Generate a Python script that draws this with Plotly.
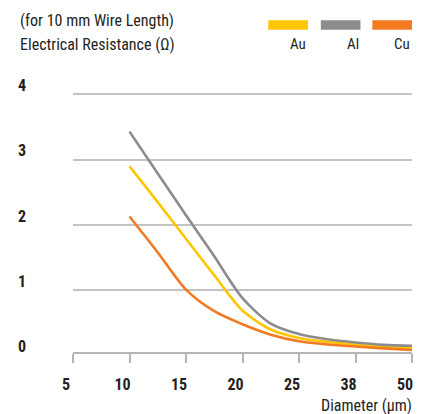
import plotly.graph_objects as go

# ---- data ----
diameters = ["5", "10", "15", "20", "25", "38", "50"]
# curve samples: position on the diameter scale (category index) and values
curve_pos = [1, 1.5, 2, 2.5, 3, 3.5, 4, 4.5, 5, 5.5, 6]
au_vals = [2.90, 2.35, 1.79, 1.23, 0.69, 0.40, 0.27, 0.21, 0.17, 0.13, 0.11]
al_vals = [3.43, 2.79, 2.15, 1.52, 0.88, 0.49, 0.33, 0.25, 0.20, 0.165, 0.15]
cu_vals = [2.13, 1.58, 1.01, 0.68, 0.48, 0.32, 0.22, 0.17, 0.14, 0.11, 0.086]
series_names = ["Au", "Al", "Cu"]
series_colors = ["#FFC600", "#8C8C8F", "#F47A20"]
y_ticks = [0, 1, 2, 3, 4]

FONT = "Roboto Condensed, Liberation Sans Narrow, sans-serif"

OFF = 8  # page body margin
W, H = 423 - OFF, 414 - OFF
PLOT_TOP, PLOT_BOTTOM = 80, 356   # page pixels
L, R = 71 - OFF, 10
T, B = PLOT_TOP - OFF, H - (PLOT_BOTTOM - OFF)
pw, ph = W - L - R, H - T - B
PX_PER_UNIT = 65.3
ZERO_PX = 355.6
AXIS_PX = 352.7

def px_x(p):  # page pixel -> paper x
    return (p - OFF - L) / pw

def px_y(p):  # page pixel -> paper y
    return (PLOT_BOTTOM - p) / ph

y0 = -(PLOT_BOTTOM - ZERO_PX) / PX_PER_UNIT
y1 = y0 + ph / PX_PER_UNIT

fig = go.Figure()
for name, vals, col in zip(series_names, [au_vals, al_vals, cu_vals], series_colors):
    fig.add_trace(go.Scatter(
        x=curve_pos, y=vals, mode="lines", name=name,
        line=dict(color=col, width=2.6, shape="spline", smoothing=0.8),
        showlegend=False, hoverinfo="skip"))

fig.update_layout(
    width=W, height=H,
    margin=dict(l=L, r=R, t=T, b=B, pad=0),
    paper_bgcolor="white", plot_bgcolor="white",
    font=dict(family=FONT, color="#231F20"),
    xaxis=dict(
        range=[0, len(diameters) - 1], tickvals=list(range(len(diameters))),
        ticktext=diameters, showgrid=False, zeroline=False,
        anchor="free", position=px_y(AXIS_PX),
        showline=True, linecolor="#B5B5B5", linewidth=2,
        ticks="outside", ticklen=9, tickwidth=2, tickcolor="#B5B5B5",
        tickfont=dict(size=16, family=FONT, color="#231F20", weight="bold"),
        ticklabelshift=-7, ticklabelstandoff=8,
    ),
    yaxis=dict(
        range=[y0, y1], tickvals=y_ticks,
        ticktext=[str(v) for v in y_ticks],
        showgrid=True, gridcolor="#C4C4C4", gridwidth=1.5,
        zeroline=False, showline=False, ticks="",
        tickfont=dict(size=16, family=FONT, color="#231F20", weight="bold"),
        ticklabelshift=-9, ticklabelstandoff=46,
    ),
)

# legend: colour bars with labels beneath, right-aligned
bar_px = [(268, 308), (321, 361), (373, 413)]
for (x0, x1), name, col in zip(bar_px, series_names, series_colors):
    fig.add_shape(type="rect", xref="paper", yref="paper",
                  x0=px_x(x0), x1=px_x(x1), y0=px_y(29.7), y1=px_y(20.3),
                  fillcolor=col, line=dict(width=0))
    fig.add_annotation(xref="paper", yref="paper", x=px_x(x1 + 0.5), y=px_y(44),
                       text=name, showarrow=False, xanchor="right", yanchor="middle",
                       font=dict(size=15, family=FONT, color="#231F20"))

fig.add_annotation(xref="paper", yref="paper", x=px_x(16), y=px_y(21),
                   text="(for 10 mm Wire Length)", showarrow=False,
                   xanchor="left", yanchor="middle",
                   font=dict(size=16, family=FONT, color="#231F20"))
fig.add_annotation(xref="paper", yref="paper", x=px_x(16), y=px_y(44),
                   text="Electrical Resistance (Ω)", showarrow=False,
                   xanchor="left", yanchor="middle",
                   font=dict(size=16, family=FONT, color="#231F20"))
fig.add_annotation(xref="paper", yref="paper", x=px_x(415), y=px_y(405),
                   text="Diameter (µm)", showarrow=False,
                   xanchor="right", yanchor="middle",
                   font=dict(size=16, family=FONT, color="#231F20"))

fig.write_html("out.html")
